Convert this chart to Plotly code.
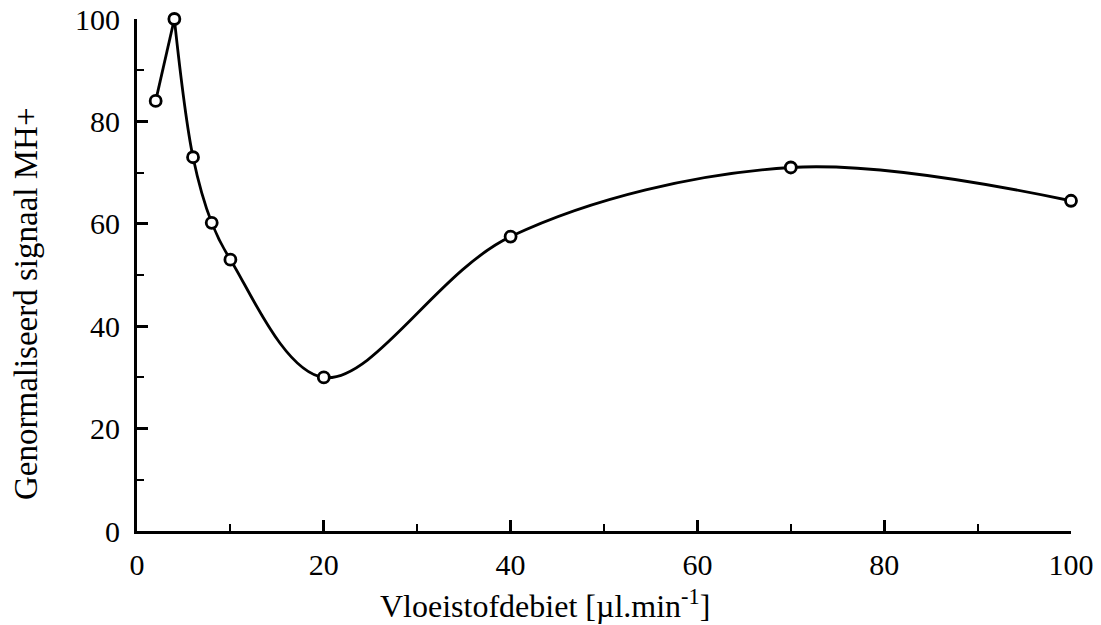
import plotly.graph_objects as go

# Flow rate (µl/min) and normalised MH+ signal
flow_rate = [2, 4, 6, 8, 10, 20, 40, 70, 100]
signal = [84, 100, 73, 60.2, 53, 30, 57.5, 71, 64.5]

x_ticks = [0, 20, 40, 60, 80, 100]
y_ticks = [0, 20, 40, 60, 80, 100]

FONT = "Liberation Serif, Times New Roman, serif"
INK = "black"

fig = go.Figure()

# Rising segment to the maximum is drawn straight, the rest as a smooth curve
fig.add_trace(go.Scatter(
    x=flow_rate[:2], y=signal[:2], mode="lines",
    line=dict(color=INK, width=2.8), cliponaxis=False, hoverinfo="skip",
))
fig.add_trace(go.Scatter(
    x=flow_rate[1:], y=signal[1:], mode="lines",
    line=dict(color=INK, width=2.8, shape="spline", smoothing=1.0),
    cliponaxis=False, hoverinfo="skip",
))
# Measured points as open circles
fig.add_trace(go.Scatter(
    x=flow_rate, y=signal, mode="markers",
    marker=dict(symbol="circle", size=11, color="white",
                line=dict(color=INK, width=2.8)),
    cliponaxis=False,
))

axis_common = dict(
    showgrid=False, zeroline=False, showline=True, linecolor=INK, linewidth=2.8,
    ticks="inside", ticklen=11, tickwidth=2.6, tickcolor=INK, automargin=False,
    tickfont=dict(family=FONT, size=30, color=INK),
    minor=dict(ticks="inside", ticklen=7, tickwidth=2.4, tickcolor=INK, dtick=10),
)

fig.update_xaxes(range=[0, 100], tickvals=x_ticks, ticktext=[str(v) for v in x_ticks],
                 ticklabelstandoff=5, **axis_common)
fig.update_yaxes(range=[0, 100], tickvals=y_ticks, ticktext=[str(v) for v in y_ticks],
                 ticklabelstandoff=8, **axis_common)

fig.add_annotation(
    text="Vloeistofdebiet [µl.min<sup>-1</sup>]", xref="paper", yref="paper",
    x=(545 - 137) / (1071 - 137), y=-(604 - 531) / (531 - 19), xanchor="center", yanchor="middle",
    showarrow=False, font=dict(family=FONT, size=32, color=INK),
)
fig.add_annotation(
    text="Genormaliseerd signaal MH+", xref="paper", yref="paper",
    x=-(137 - 26) / (1071 - 137), y=(531 - 304) / (531 - 19), xanchor="center", yanchor="middle",
    textangle=-90, showarrow=False, font=dict(family=FONT, size=33, color=INK),
)

fig.update_layout(
    width=1101, height=625, showlegend=False,
    margin=dict(l=137, r=30, t=19, b=94),
    paper_bgcolor="white", plot_bgcolor="white",
)

fig.write_html("out.html")
